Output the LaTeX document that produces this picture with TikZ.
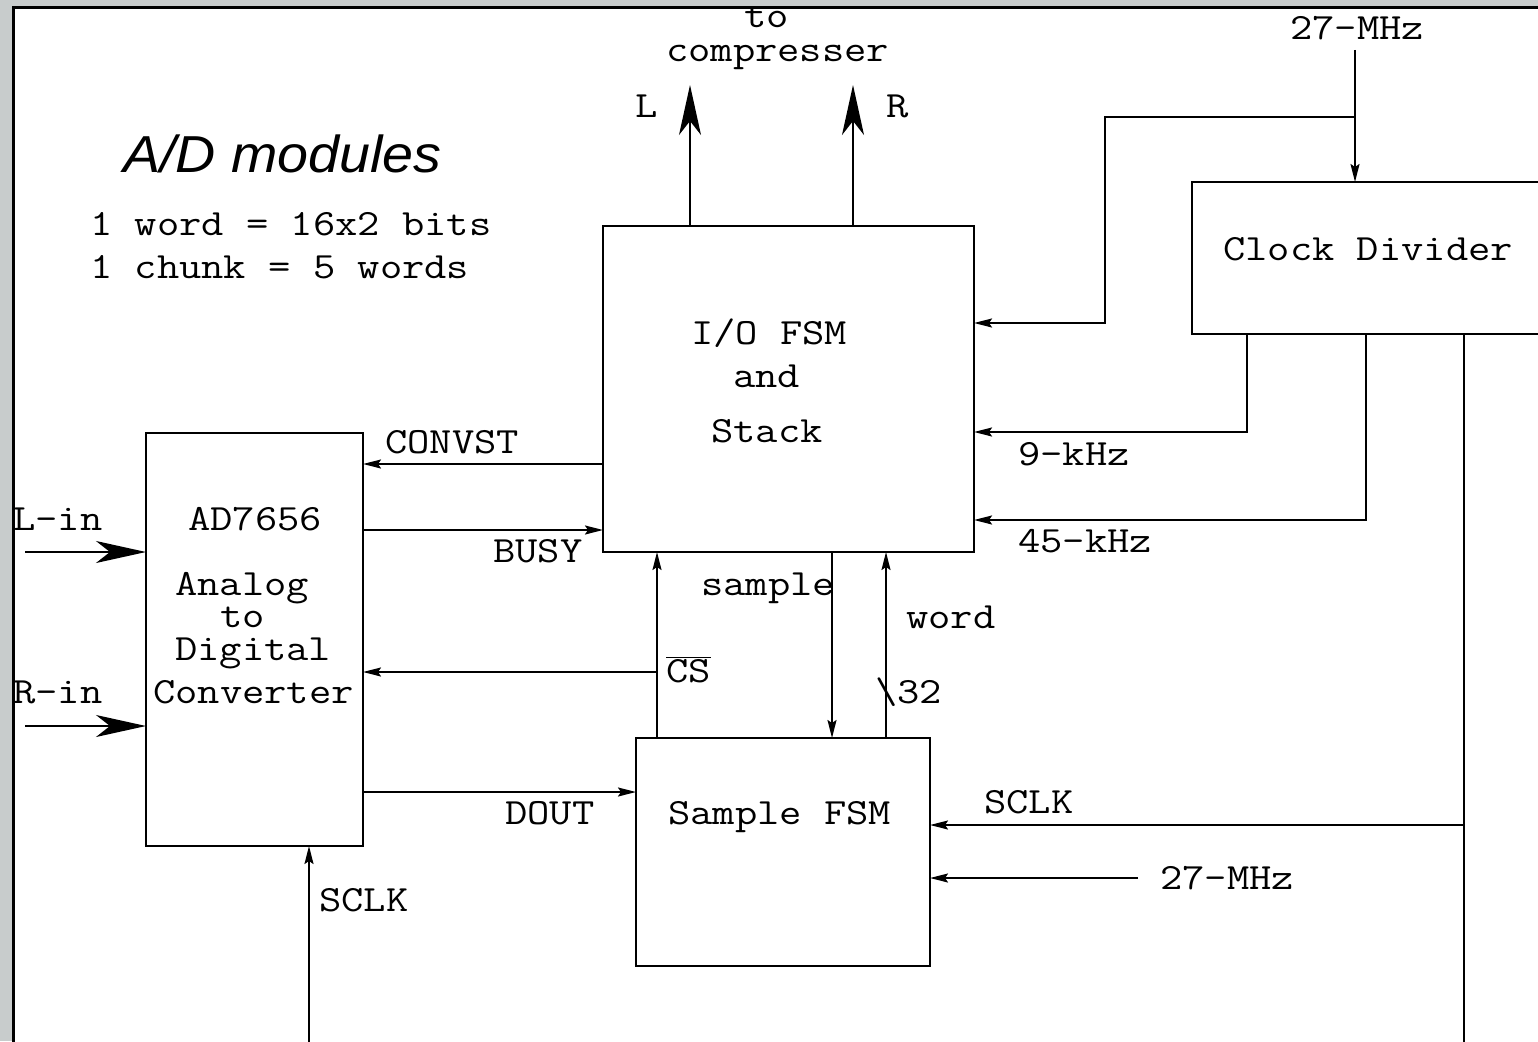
\documentclass[tikz,border=0pt]{standalone}
\usepackage{fontspec}
\newfontfamily\cour{Latin Modern Mono}[FakeStretch=1.17]
\newfontfamily\titlefont{Liberation Sans}[FakeStretch=1.07]
\usetikzlibrary{arrows.meta}
\definecolor{bggrey}{RGB}{200,204,204}
\begin{document}
\begin{tikzpicture}[x=1pt,y=-1pt,
  box/.style={draw, line width=2pt, inner sep=0pt, outer sep=0pt},
  wire/.style={line width=2pt},
  sarr/.style={wire, -{Stealth[length=18pt,width=9pt,inset=3pt]}},
  barr/.style={wire, -{Stealth[length=50pt,width=22pt,inset=14pt]}},
  lbl/.style={anchor=base west, inner sep=0pt, font=\cour\fontsize{37}{40}\selectfont},
]
\useasboundingbox (0,0) rectangle (1538,1041);
\clip (0,0) rectangle (1538,1041);
\fill[bggrey] (0,0) rectangle (1538,1041);
\draw[fill=white, line width=3pt] (13,8) rectangle (1580,1080);

% boxes
\node[box, minimum width=371pt, minimum height=326pt] (io) at (788.5,389) {};
\node[box, minimum width=217pt, minimum height=413pt] (adc) at (254.5,639.5) {};
\node[box, minimum width=294pt, minimum height=228pt] (sfsm) at (783,852) {};
\node[box, minimum width=368pt, minimum height=152pt] (clk) at (1376,258) {};

% texts
\node[lbl] (tTo) at (744,28) {to};
\node[lbl] (tComp) at (666,62) {compresser};
\node[lbl] (tL) at (635,117) {L};
\node[lbl] (tR) at (886,117) {R};
\node[lbl] (t27a) at (1290,40) {27-MHz};
\node[anchor=base west, inner sep=0pt, font=\titlefont\itshape\fontsize{52}{56}\selectfont] (title) at (123,172) {A/D modules};
\node[lbl] (tw1) at (90,235) {1 word = 16x2 bits};
\node[lbl] (tw2) at (90,278) {1 chunk = 5 words};
\node[lbl] (tclk) at (1223,260) {Clock Divider};
\node[lbl] (tio1) at (691,344) {I/O FSM};
\node[lbl] (tio2) at (733,387) {and};
\node[lbl] (tio3) at (711,442) {Stack};
\node[lbl] (tconv) at (385,453) {CONVST};
\node[lbl] (t9k) at (1018,465) {9-kHz};
\node[lbl] (t45k) at (1018,552) {45-kHz};
\node[lbl] (tLin) at (13,530) {L-in};
\node[lbl] (tRin) at (13,703) {R-in};
\node[lbl] (ta1) at (188,530) {AD7656};
\node[lbl] (ta2) at (175,595) {Analog};
\node[lbl] (ta3) at (220,627) {to};
\node[lbl] (ta4) at (175,660) {Digital};
\node[lbl] (ta5) at (153,703) {Converter};
\node[lbl] (tbusy) at (493,562) {BUSY};
\node[lbl] (tsamp) at (701,595) {sample};
\node[lbl] (tword) at (906,628) {word};
\node[lbl] (tcs) at (666,682) {$\overline{\hbox{CS}}$};
\node[lbl] (t32) at (875,703) {\textbackslash32};
\node[lbl] (tdout) at (505,824) {DOUT};
\node[lbl] (tsf) at (668,824) {Sample FSM};
\node[lbl] (tsclk1) at (319,911) {SCLK};
\node[lbl] (tsclk2) at (984,813) {SCLK};
\node[lbl] (t27b) at (1160,889) {27-MHz};

% coordinates
\coordinate (Ltip) at (690,85);
\coordinate (Rtip) at (853,85);
\coordinate (c27) at (1355,50);
\coordinate (b1) at (1355,117);
\coordinate (b2) at (1105,117);
\coordinate (jS) at (1464,825);
\coordinate (botS) at (1464,1060);
\coordinate (m27) at (1138,878);
\coordinate (csj) at (657,672);
\coordinate (sclkb) at (309,1060);
\coordinate (Lin) at (25,552);
\coordinate (Rin) at (25,726);

% connectors
\draw[barr] (io.north -| Ltip) -- (Ltip);
\draw[barr] (io.north -| Rtip) -- (Rtip);
\draw[sarr] (c27) -- (clk.north -| c27);
\draw[sarr] (b1) -- (b2) |- (io.east |- 0,323);
\draw[sarr] (clk.south -| 1247,0) |- (io.east |- 0,432);
\draw[sarr] (clk.south -| 1366,0) |- (io.east |- 0,520);
\draw[wire] (clk.south -| botS) -- (botS);
\draw[sarr] (jS) -- (sfsm.east |- jS);
\draw[sarr] (m27) -- (sfsm.east |- m27);
\draw[sarr] (io.west |- 0,464) -- (adc.east |- 0,464);
\draw[sarr] (adc.east |- 0,530) -- (io.west |- 0,530);
\draw[sarr] (sfsm.north -| csj) -- (io.south -| csj);
\draw[sarr] (csj) -- (adc.east |- csj);
\draw[sarr] (io.south -| 832,0) -- (sfsm.north -| 832,0);
\draw[sarr] (sfsm.north -| 886,0) -- (io.south -| 886,0);
\draw[sarr] (adc.east |- 0,792) -- (sfsm.west |- 0,792);
\draw[sarr] (sclkb) -- (adc.south -| sclkb);
\draw[barr] (Lin) -- (adc.west |- Lin);
\draw[barr] (Rin) -- (adc.west |- Rin);
\end{tikzpicture}
\end{document}
